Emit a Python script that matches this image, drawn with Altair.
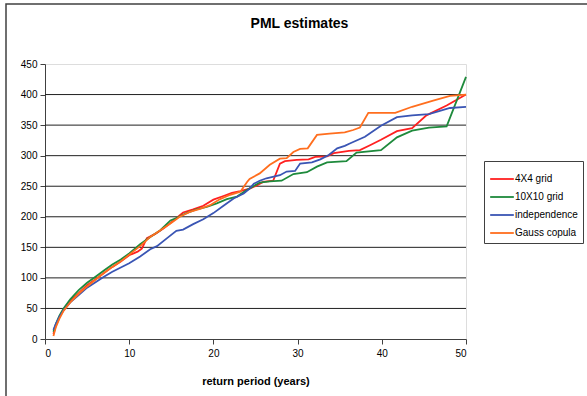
import altair as alt
import pandas as pd

# Return period (years) and PML estimate for each dependence model
grid4_x = [1, 1.3, 1.7, 2.2, 3, 4, 5, 6, 7, 8, 9, 10, 11, 11.5, 12.1, 13.1, 14.1, 15.2,
           16.4, 17.6, 18.8, 20, 21.2, 22.2, 23.2, 24.3, 25.1, 25.9, 27.1, 27.9, 28.5,
           29.9, 31.3, 32.1, 33.5, 34.3, 36.1, 37.4, 38.6, 39.9, 41.8, 43.6, 45.3, 47.7, 50]
grid4_y = [8, 22, 35, 48, 62, 75, 88, 98, 108, 118, 127, 137, 143, 148, 165, 172, 181, 193,
           207, 212, 218, 228, 234, 239, 242, 246, 251, 257, 259, 287, 291,
           293, 294, 298, 299, 304, 308, 309, 317, 326, 340, 345, 366, 382, 400]

grid10_x = [1, 1.3, 1.7, 2.2, 3, 4, 5, 6, 7, 8, 9, 10, 11.3, 12.5, 13.7, 14.9, 15.6, 16.8,
            18, 19.2, 20.4, 21.6, 22.8, 24, 25.5, 26.7, 28.1, 29.5, 31.1, 32.3, 33.5, 35.8,
            37, 39.9, 41.8, 43.6, 45.6, 47.7, 50]
grid10_y = [12, 25, 38, 50, 65, 80, 92, 102, 112, 122, 130, 140, 155, 167, 178, 194, 198, 206,
            212, 216, 222, 229, 233, 244, 256, 258, 259, 270, 273, 282, 289, 291,
            305, 309, 330, 341, 346, 348, 429]

indep_x = [1, 1.3, 1.7, 2.2, 3, 4, 5, 6, 7, 8, 9, 10, 11.3, 12.5, 13.3, 14.5, 15.6, 16.4,
           17.6, 18.8, 20, 21.2, 22.4, 23.6, 24.3, 24.8, 25.5, 26.3, 27.9, 28.7, 29.7, 30.3,
           31.7, 32.7, 33.7, 34.7, 35.6, 36.2, 38, 39.9, 41.8, 43.6, 45.6, 48.1, 50]
indep_y = [15, 25, 36, 47, 60, 72, 84, 93, 102, 110, 117, 124, 135, 147, 152, 165, 177, 179,
           188, 196, 206, 218, 230, 238, 246, 254, 259, 263, 268, 274, 275, 287,
           289, 294, 301, 312, 316, 320, 331, 349, 363, 366, 368, 378, 380]

gauss_x = [1, 1.3, 1.7, 2.2, 3, 4, 5, 6, 7, 8, 9, 10, 11.3, 12.5, 13.7, 14.9, 16, 17.2,
           18.4, 19.6, 20.8, 22, 23.2, 24, 24.3, 25.5, 26.7, 27.9, 28.7, 29.5, 30.3, 31.2,
           32.3, 33.8, 35.6, 36.6, 37.4, 38.4, 41.6, 43.6, 46.1, 48.1, 50]
gauss_y = [5, 20, 33, 46, 60, 74, 86, 97, 108, 118, 127, 138, 152, 167, 178, 189, 200, 208,
           213, 219, 229, 236, 241, 257, 262, 271, 285, 295, 296, 306, 311, 312,
           334, 336, 338, 342, 346, 370, 370, 380, 390, 398, 400]

series_names = ["4X4 grid", "10X10 grid", "independence", "Gauss copula"]
series_colors = ["#FF2020", "#1E8A3C", "#3A55B4", "#FF6E1E"]
x_ticks = [0, 10, 20, 30, 40, 50]
y_ticks = [0, 50, 100, 150, 200, 250, 300, 350, 400, 450]

frames = []
for order, (name, xs, ys) in enumerate(zip(
        series_names,
        [grid4_x, grid10_x, indep_x, gauss_x],
        [grid4_y, grid10_y, indep_y, gauss_y])):
    frames.append(pd.DataFrame({"period": xs, "pml": ys, "series": name, "order": order}))
data = pd.concat(frames, ignore_index=True)

font = "Liberation Sans"
y_scale = alt.Scale(domain=[0, 450], nice=False)
y_axis = alt.Axis(values=y_ticks, title=None, grid=False,
                  tickSize=5, tickColor="#404040", domainColor="#404040",
                  labelPadding=3, labelOverlap=False)

lines = alt.Chart(data).mark_line(strokeWidth=1.8).encode(
    x=alt.X("period:Q",
            scale=alt.Scale(domain=[0, 50], nice=False),
            axis=alt.Axis(values=x_ticks, title="return period (years)", grid=False,
                          tickSize=5, tickColor="#404040", domainColor="#404040",
                          labelPadding=4, titlePadding=17, labelOverlap=False)),
    y=alt.Y("pml:Q", scale=y_scale, axis=y_axis),
    color=alt.Color("series:N",
                    scale=alt.Scale(domain=series_names, range=series_colors),
                    legend=alt.Legend(title=None, orient="none", legendX=439, legendY=97,
                                      symbolType="stroke", symbolSize=560,
                                      symbolStrokeWidth=1.8, labelOffset=0,
                                      rowPadding=0, padding=5, strokeColor="#404040",
                                      fillColor="white", labelLimit=200)),
    detail="order:O",
    order="order:O",
)

# horizontal gridlines at each major value below the top edge
grid = alt.Chart(pd.DataFrame({"g": y_ticks[1:-1]})).mark_rule(
    color="#202020", strokeWidth=1
).encode(y=alt.Y("g:Q", scale=y_scale, axis=y_axis))

# chart frame
frame = alt.Chart(pd.DataFrame({"a": [0]})).mark_rect(
    fill=None, stroke="#404040", strokeWidth=1.5, clip=False
).encode(x=alt.value(-39), x2=alt.value(700), y=alt.value(-60), y2=alt.value(500))

chart = alt.layer(frame, grid, lines).properties(
    width=421, height=275,
    title=alt.TitleParams("PML estimates", font=font, fontSize=14, fontWeight="bold",
                          anchor="middle", dx=44, offset=-28, color="black"),
    autosize=alt.AutoSizeParams(type="none"),
    padding={"left": 45, "top": 64, "right": 121, "bottom": 57},
).configure_view(
    fill="#C0C0C0", stroke="#A0A0A0", strokeWidth=1
).configure_axis(
    labelFont=font, labelFontSize=11, labelColor="#202020",
    titleFont=font, titleFontSize=11, titleFontWeight="bold", titleColor="black"
).configure_legend(
    labelFont=font, labelFontSize=11, labelColor="#202020"
).configure(background="white")

chart.save("out.html", embed_options={"renderer": "svg", "actions": False})
